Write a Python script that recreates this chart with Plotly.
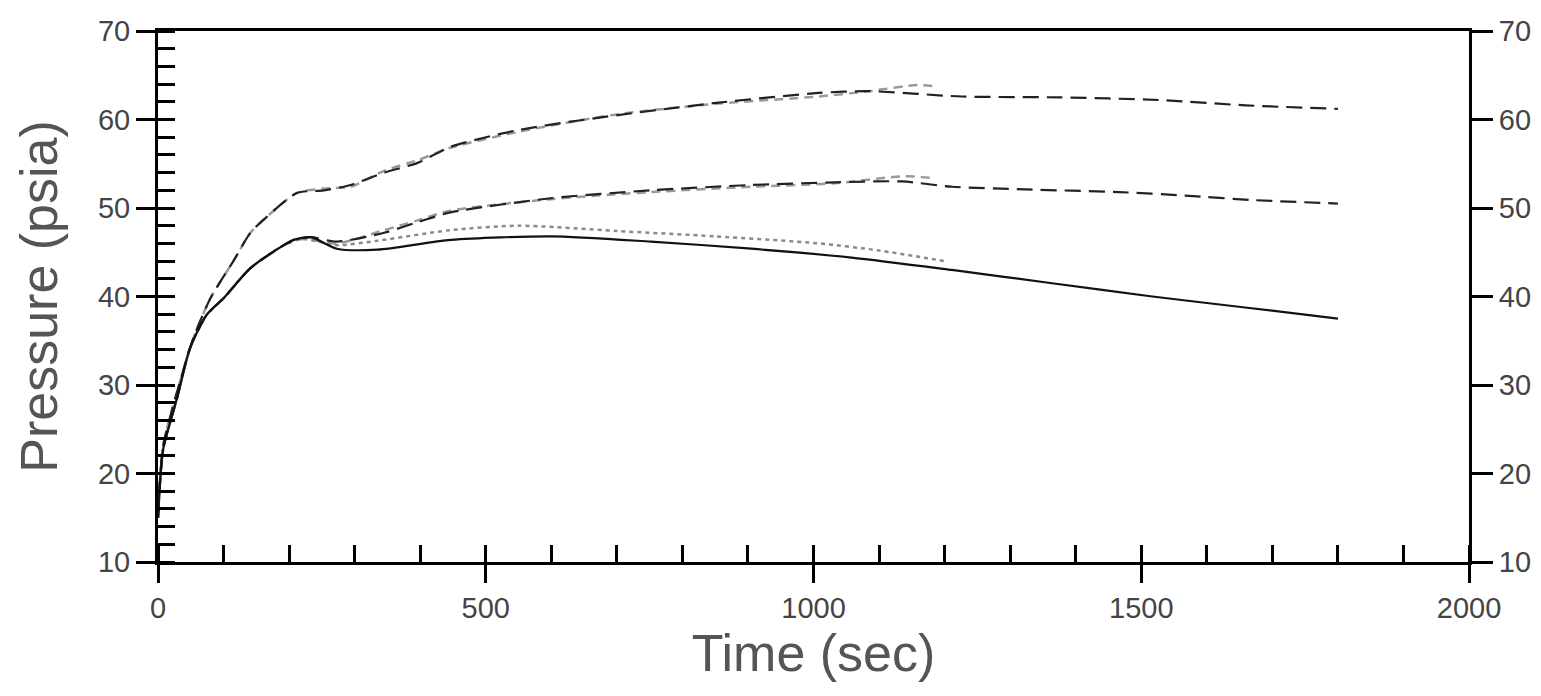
import plotly.graph_objects as go

# model curves (black)
t_low = [0, 3, 8, 29, 49, 74, 100, 141, 192, 207, 233, 273, 335, 447, 600, 752, 905, 1058, 1211, 1364, 1517, 1665, 1800]
p_low = [15, 19, 22.8, 28.5, 34.2, 37.9, 39.8, 43.2, 45.8, 46.4, 46.7, 45.4, 45.3, 46.4, 46.8, 46.2, 45.4, 44.4, 43.0, 41.5, 40.0, 38.7, 37.5]

t_mid = [0, 3, 8, 29, 49, 74, 100, 141, 192, 207, 233, 273, 345, 396, 446, 599, 752, 905, 1033, 1135, 1211, 1323, 1466, 1567, 1670, 1800]
p_mid = [15, 19, 22.8, 28.5, 34.2, 37.9, 39.8, 43.2, 45.8, 46.4, 46.7, 46.2, 47.2, 48.4, 49.5, 51.1, 52.0, 52.6, 52.9, 53.0, 52.4, 52.1, 51.8, 51.4, 50.9, 50.5]

t_top = [0, 3, 8, 29, 54, 80, 115, 141, 166, 212, 253, 294, 345, 396, 446, 549, 702, 855, 1008, 1084, 1226, 1374, 1527, 1659, 1800]
p_top = [15, 19, 23.2, 29.2, 35.3, 39.8, 44.0, 47.2, 49.0, 51.7, 52.0, 52.6, 54.0, 55.1, 56.9, 58.8, 60.5, 61.9, 63.0, 63.2, 62.6, 62.5, 62.2, 61.6, 61.2]

# measured curves (gray), stop around 1200 s
t_top_exp = [0, 8, 29, 54, 80, 115, 141, 166, 212, 253, 294, 345, 396, 446, 549, 702, 855, 1008, 1084, 1160, 1190]
p_top_exp = [15, 23.2, 29.2, 35.3, 39.8, 44.0, 47.2, 49.0, 51.7, 52.2, 52.4, 54.2, 55.4, 56.8, 58.6, 60.6, 61.8, 62.6, 63.2, 63.9, 63.7]

t_mid_exp = [0, 8, 29, 49, 74, 100, 141, 192, 220, 273, 345, 396, 446, 599, 752, 905, 1033, 1140, 1180]
p_mid_exp = [15, 22.8, 28.5, 34.2, 37.9, 39.8, 43.2, 45.8, 46.5, 46.0, 47.5, 48.6, 49.7, 51.0, 51.8, 52.4, 52.8, 53.6, 53.4]

t_low_exp = [0, 8, 29, 49, 74, 100, 141, 192, 220, 273, 335, 446, 550, 700, 850, 1008, 1100, 1200]
p_low_exp = [15, 22.8, 28.5, 34.2, 37.9, 39.8, 43.2, 45.8, 46.5, 45.8, 46.3, 47.5, 48.0, 47.4, 46.8, 46.0, 45.2, 44.0]

x_ticks = [0, 500, 1000, 1500, 2000]
y_ticks = [10, 20, 30, 40, 50, 60, 70]

tick_font = dict(family="Liberation Sans, Arial, sans-serif", size=29, color="#444")
title_font = dict(family="Liberation Sans, Arial, sans-serif", size=52, color="#555")

fig = go.Figure()

def curve(x, y, color, width, dash):
    return go.Scatter(x=x, y=y, mode="lines",
                      line=dict(color=color, width=width, dash=dash, shape="spline", smoothing=0.7))

fig.add_trace(curve(t_top_exp, p_top_exp, "#9a9a9a", 2.5, "9px,6px"))
fig.add_trace(curve(t_mid_exp, p_mid_exp, "#9a9a9a", 2.5, "9px,6px"))
fig.add_trace(curve(t_low_exp, p_low_exp, "#8a8a8a", 2.5, "4px,4px"))

fig.add_trace(curve(t_top, p_top, "#222", 2.2, "16px,8px"))
fig.add_trace(curve(t_mid, p_mid, "#222", 2.2, "16px,8px"))
fig.add_trace(curve(t_low, p_low, "#111", 2.2, "solid"))

# dummy trace so the right axis is drawn
fig.add_trace(go.Scatter(x=[0], y=[10], yaxis="y2", mode="lines", hoverinfo="skip", line=dict(width=0)))

fig.update_layout(
    width=1541, height=696,
    margin=dict(l=150, r=80, t=23, b=142, autoexpand=False),
    plot_bgcolor="white", paper_bgcolor="white",
    showlegend=False,
    xaxis=dict(
        range=[0, 2000], tickvals=x_ticks, ticktext=[str(v) for v in x_ticks],
        showgrid=False, zeroline=False, automargin=False,
        showline=True, linecolor="black", linewidth=3, mirror=True,
        ticks="outside", ticklen=18, tickwidth=3, tickcolor="black",
        minor=dict(ticks="inside", dtick=100, ticklen=17, tickwidth=3, tickcolor="black", showgrid=False),
        tickfont=tick_font,
        title=dict(text="Time (sec)", font=title_font, standoff=2),
    ),
    yaxis=dict(
        range=[10, 70], tickvals=y_ticks, ticktext=[str(v) for v in y_ticks],
        showgrid=False, zeroline=False, automargin=False,
        showline=True, linecolor="black", linewidth=3,
        ticks="outside", ticklen=19, tickwidth=3, tickcolor="black",
        minor=dict(ticks="inside", dtick=2, ticklen=17, tickwidth=3, tickcolor="black", showgrid=False),
        tickfont=tick_font,
        title=dict(text="Pressure (psia)", font=title_font, standoff=24),
    ),
    yaxis2=dict(
        range=[10, 70], tickvals=y_ticks, ticktext=[str(v) for v in y_ticks],
        overlaying="y", side="right", automargin=False,
        showgrid=False, zeroline=False,
        showline=True, linecolor="black", linewidth=3,
        ticks="outside", ticklen=21, tickwidth=3, tickcolor="black",
        tickfont=tick_font,
    ),
)

fig.write_html("out.html")
